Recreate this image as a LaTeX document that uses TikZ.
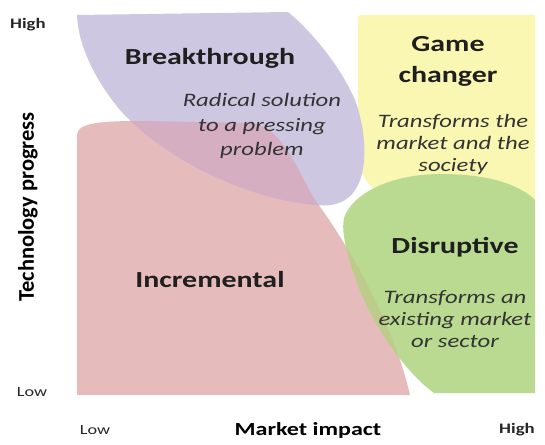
\documentclass[tikz,border=0pt]{standalone}
\usepackage{fontspec}
\setmainfont[FakeStretch=1.3]{Carlito}
\newfontfamily\plainfont{Carlito}
\usetikzlibrary{positioning}
\definecolor{incfill}{HTML}{E6BBBB}
\definecolor{brkfill}{HTML}{CEC7E1}
\definecolor{brkinc}{HTML}{D5AEC2}
\definecolor{gamefill}{HTML}{FAF7B3}
\definecolor{disfill}{HTML}{B9DA90}
\definecolor{disinc}{HTML}{BDCB8B}
\tikzset{
	title/.style = {font=\bfseries\fontsize{23}{31}\selectfont, text=black!88, inner sep=1pt},
	note/.style = {font=\itshape\fontsize{19}{22}\selectfont, text=black!80, align=center, inner sep=1pt},
	axis/.style = {font=\bfseries\fontsize{18.5}{20}\selectfont, text=black},
	lowtick/.style = {font=\fontsize{14}{16}\selectfont, text=black!85},
	hightick/.style = {font=\bfseries\fontsize{14.5}{16}\selectfont, text=black!85}
}
\newcommand\incshape{(77,395) -- (77,135) .. controls (77,123) and (100,121) .. (140,121) -- (250,123) .. controls (285,125) and (300,180) .. (318,204) .. controls (355,255) and (395,330) .. (410,395) -- cycle}
\newcommand\brkshape{(77,15) -- (288,12) .. controls (310,30) and (340,65) .. (355,100) .. controls (368,135) and (370,185) .. (345,200) .. controls (335,206) and (325,206) .. (315,205) .. controls (240,198) and (160,155) .. (120,110) .. controls (95,80) and (78,45) .. (77,15) -- cycle}
\newcommand\disshape{(345,215) .. controls (358,188) and (400,174) .. (440,174) .. controls (490,174) and (520,185) .. (535,200) -- (535,393) -- (434,393) .. controls (405,372) and (372,325) .. (356,280) .. controls (346,252) and (340,228) .. (345,215) -- cycle}

\begin{document}
\begin{tikzpicture}[x=1pt, y=-1pt]
	\useasboundingbox (0,0) rectangle (545,444);

	% areas
	\fill[gamefill] (358,22) .. controls (358,15) .. (366,15) -- (535,15) -- (535,200) -- (400,200) .. controls (370,195) and (358,175) .. (358,150) -- cycle;
	\fill[incfill] \incshape;
	\fill[brkfill] \brkshape;
	\begin{scope}
		\clip \incshape;
		\fill[brkinc] \brkshape;
	\end{scope}
	\fill[disfill] \disshape;
	\begin{scope}
		\clip \incshape;
		\fill[disinc] \disshape;
	\end{scope}

	% area titles
	\node[title] (brk) at (210,58) {Breakthrough};
	\node[note, font=\itshape\fontsize{19}{24.5}\selectfont] (brknote) at (262,126) {Radical solution\\to a pressing\\problem};
	\node[title, align=center] (game) at (448,61) {Game\\changer};
	\node[note] (gamenote) at (453,144) {Transforms the\\market and the\\society};
	\node[title] (dis) at (455,247) {Disruptive};
	\node[note] (disnote) at (455,319) {Transforms an\\existing market\\or sector};
	\node[title] (inc) at (210,280) {Incremental};

	% axes
	\node[axis, rotate=90] (ylabel) at (28,207) {\plainfont\bfseries\fontsize{22.5}{24}\selectfont Technology progress};
	\node[hightick] (yhigh) at (28,25) {High};
	\node[lowtick] (ylow) at (32,392) {Low};
	\node[axis] (xlabel) at (308,430) {Market impact};
	\node[lowtick] (xlow) at (95,430) {Low};
	\node[hightick] (xhigh) at (517,430) {High};
\end{tikzpicture}
\end{document}
